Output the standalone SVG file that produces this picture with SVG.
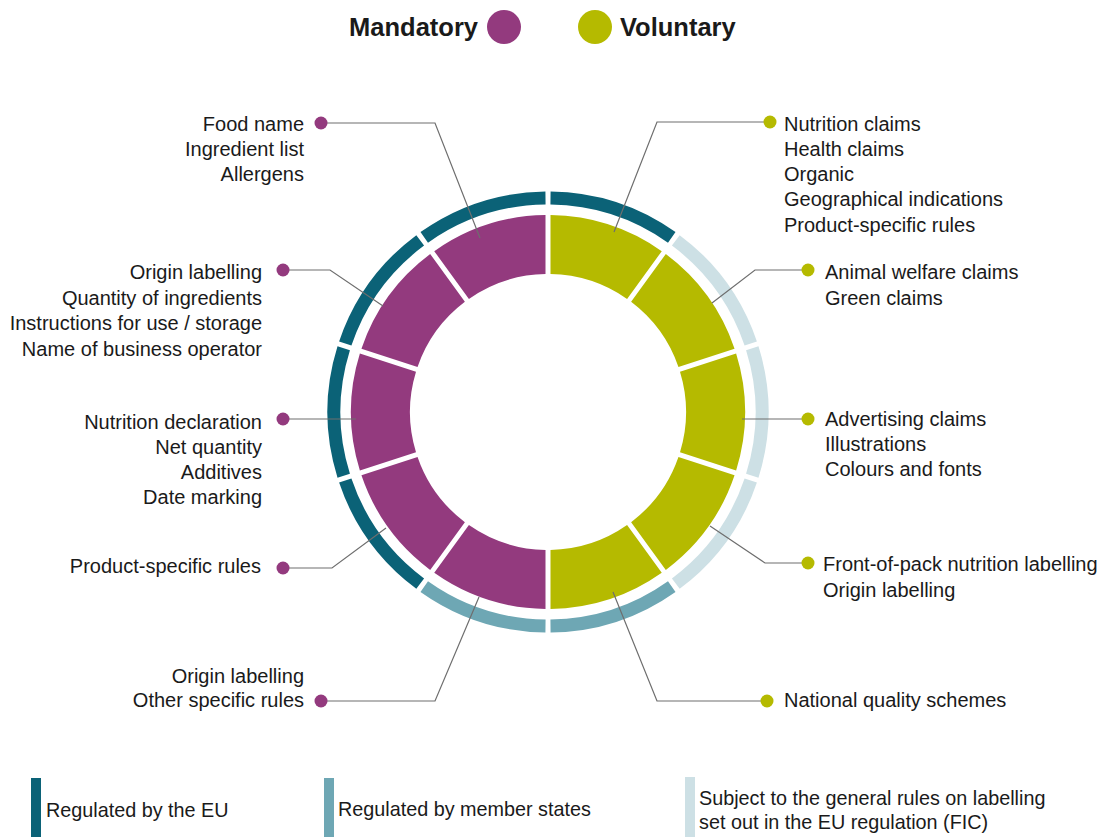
<svg xmlns="http://www.w3.org/2000/svg" width="1115" height="837" viewBox="0 0 1115 837">
<style>
.t{font-family:"Liberation Sans",Arial,sans-serif;font-size:20px;fill:#1a1a1a}
.h{font-family:"Liberation Sans",Arial,sans-serif;font-size:25.5px;font-weight:bold;fill:#1a1a1a}
.lg{font-family:"Liberation Sans",Arial,sans-serif;font-size:19.8px;fill:#1a1a1a}
.r{text-anchor:end}
.mand{fill:#933a7e}
.vol{fill:#b5ba00}
.ring{fill:none;stroke-width:13}
.eu{stroke:#0b6277}
.ms{stroke:#6ea7b4}
.gen{stroke:#cde0e5}
.conn{fill:none;stroke:#6e6e6e;stroke-width:1.2}
</style>
<rect width="1115" height="837" fill="#fff"/>

<g id="header">
<text class="h r" x="478" y="36">Mandatory</text>
<circle class="mand" cx="504" cy="27" r="17"/>
<circle class="vol" cx="595" cy="27" r="17"/>
<text class="h" x="620" y="36">Voluntary</text>
</g>

<g id="outer-ring">
<path class="ring eu" d="M550.5,198.01 A214,214 0 0 1 671.76,237.41"/>
<path class="ring gen" d="M675.8,240.35 A214,214 0 0 1 750.74,343.5"/>
<path class="ring gen" d="M752.28,348.25 A214,214 0 0 1 752.28,475.75"/>
<path class="ring gen" d="M750.74,480.5 A214,214 0 0 1 675.8,583.65"/>
<path class="ring ms" d="M671.76,586.59 A214,214 0 0 1 550.5,625.99"/>
<path class="ring eu" d="M545.5,198.01 A214,214 0 0 0 424.24,237.41"/>
<path class="ring eu" d="M420.2,240.35 A214,214 0 0 0 345.26,343.5"/>
<path class="ring eu" d="M343.72,348.25 A214,214 0 0 0 343.72,475.75"/>
<path class="ring eu" d="M345.26,480.5 A214,214 0 0 0 420.2,583.65"/>
<path class="ring ms" d="M424.24,586.59 A214,214 0 0 0 545.5,625.99"/>
</g>

<g id="seg-m1"><path class="mand" d="M545.5,215.02 A197,197 0 0 0 434.24,251.17 L468.92,298.9 A138,138 0 0 1 545.5,274.02 Z"/></g>
<g id="seg-m2"><path class="mand" d="M430.19,254.11 A197,197 0 0 0 361.43,348.75 L417.55,366.99 A138,138 0 0 1 464.88,301.84 Z"/></g>
<g id="seg-m3"><path class="mand" d="M359.88,353.51 A197,197 0 0 0 359.88,470.49 L416,452.26 A138,138 0 0 1 416,371.74 Z"/></g>
<g id="seg-m4"><path class="mand" d="M361.43,475.25 A197,197 0 0 0 430.19,569.89 L464.88,522.16 A138,138 0 0 1 417.55,457.01 Z"/></g>
<g id="seg-m5"><path class="mand" d="M434.24,572.83 A197,197 0 0 0 545.5,608.98 L545.5,549.98 A138,138 0 0 1 468.92,525.1 Z"/></g>
<g id="seg-v1"><path class="vol" d="M550.5,215.02 A197,197 0 0 1 661.76,251.17 L627.08,298.9 A138,138 0 0 0 550.5,274.02 Z"/></g>
<g id="seg-v2"><path class="vol" d="M665.81,254.11 A197,197 0 0 1 734.57,348.75 L678.45,366.99 A138,138 0 0 0 631.12,301.84 Z"/></g>
<g id="seg-v3"><path class="vol" d="M736.12,353.51 A197,197 0 0 1 736.12,470.49 L680,452.26 A138,138 0 0 0 680,371.74 Z"/></g>
<g id="seg-v4"><path class="vol" d="M734.57,475.25 A197,197 0 0 1 665.81,569.89 L631.12,522.16 A138,138 0 0 0 678.45,457.01 Z"/></g>
<g id="seg-v5"><path class="vol" d="M661.76,572.83 A197,197 0 0 1 550.5,608.98 L550.5,549.98 A138,138 0 0 0 627.08,525.1 Z"/></g>

<g id="connectors">
<path class="conn" d="M327,123 H435 L480,238"/>
<path class="conn" d="M289,270 H330 L383,306"/>
<path class="conn" d="M289,419 H356"/>
<path class="conn" d="M289,568 H332 L386,528"/>
<path class="conn" d="M327,701 H435 L479,597"/>
<path class="conn" d="M764,122 H657 L614,232"/>
<path class="conn" d="M802,270 H755 L712,303"/>
<path class="conn" d="M802,419 H742"/>
<path class="conn" d="M802,563 H765 L710,526"/>
<path class="conn" d="M761,701 H657 L613,592"/>
</g>

<g id="label-m1">
<circle class="mand" cx="321" cy="123" r="6.5"/>
<text class="t r" x="304" y="131">Food name</text>
<text class="t r" x="304" y="156">Ingredient list</text>
<text class="t r" x="304" y="181">Allergens</text>
</g>
<g id="label-m2">
<circle class="mand" cx="283" cy="270" r="6.5"/>
<text class="t r" x="262" y="279">Origin labelling</text>
<text class="t r" x="262" y="305">Quantity of ingredients</text>
<text class="t r" x="262" y="330">Instructions for use / storage</text>
<text class="t r" x="262" y="356">Name of business operator</text>
</g>
<g id="label-m3">
<circle class="mand" cx="283" cy="419" r="6.5"/>
<text class="t r" x="262" y="429">Nutrition declaration</text>
<text class="t r" x="262" y="454">Net quantity</text>
<text class="t r" x="262" y="479">Additives</text>
<text class="t r" x="262" y="504">Date marking</text>
</g>
<g id="label-m4">
<circle class="mand" cx="283" cy="568" r="6.5"/>
<text class="t r" x="261" y="573">Product-specific rules</text>
</g>
<g id="label-m5">
<circle class="mand" cx="321" cy="701" r="6.5"/>
<text class="t r" x="304" y="683">Origin labelling</text>
<text class="t r" x="304" y="707">Other specific rules</text>
</g>

<g id="label-v1">
<circle class="vol" cx="770" cy="122" r="6.5"/>
<text class="t" x="784" y="131">Nutrition claims</text>
<text class="t" x="784" y="156">Health claims</text>
<text class="t" x="784" y="181">Organic</text>
<text class="t" x="784" y="206">Geographical indications</text>
<text class="t" x="784" y="232">Product-specific rules</text>
</g>
<g id="label-v2">
<circle class="vol" cx="808" cy="270" r="6.5"/>
<text class="t" x="825" y="279">Animal welfare claims</text>
<text class="t" x="825" y="305">Green claims</text>
</g>
<g id="label-v3">
<circle class="vol" cx="808" cy="419" r="6.5"/>
<text class="t" x="825" y="426">Advertising claims</text>
<text class="t" x="825" y="451">Illustrations</text>
<text class="t" x="825" y="476">Colours and fonts</text>
</g>
<g id="label-v4">
<circle class="vol" cx="808" cy="563" r="6.5"/>
<text class="t" x="823" y="571">Front-of-pack nutrition labelling</text>
<text class="t" x="823" y="597">Origin labelling</text>
</g>
<g id="label-v5">
<circle class="vol" cx="767" cy="701" r="6.5"/>
<text class="t" x="784" y="707">National quality schemes</text>
</g>

<g id="legend">
<rect x="31" y="778" width="10" height="59" fill="#0b6277"/>
<text class="lg" x="46" y="817">Regulated by the EU</text>
<rect x="324" y="778" width="10" height="59" fill="#6ea7b4"/>
<text class="lg" x="338" y="816">Regulated by member states</text>
<rect x="685" y="777" width="10" height="60" fill="#cde0e5"/>
<text class="lg" x="699" y="805">Subject to the general rules on labelling</text>
<text class="lg" x="699" y="829">set out in the EU regulation (FIC)</text>
</g>
</svg>
